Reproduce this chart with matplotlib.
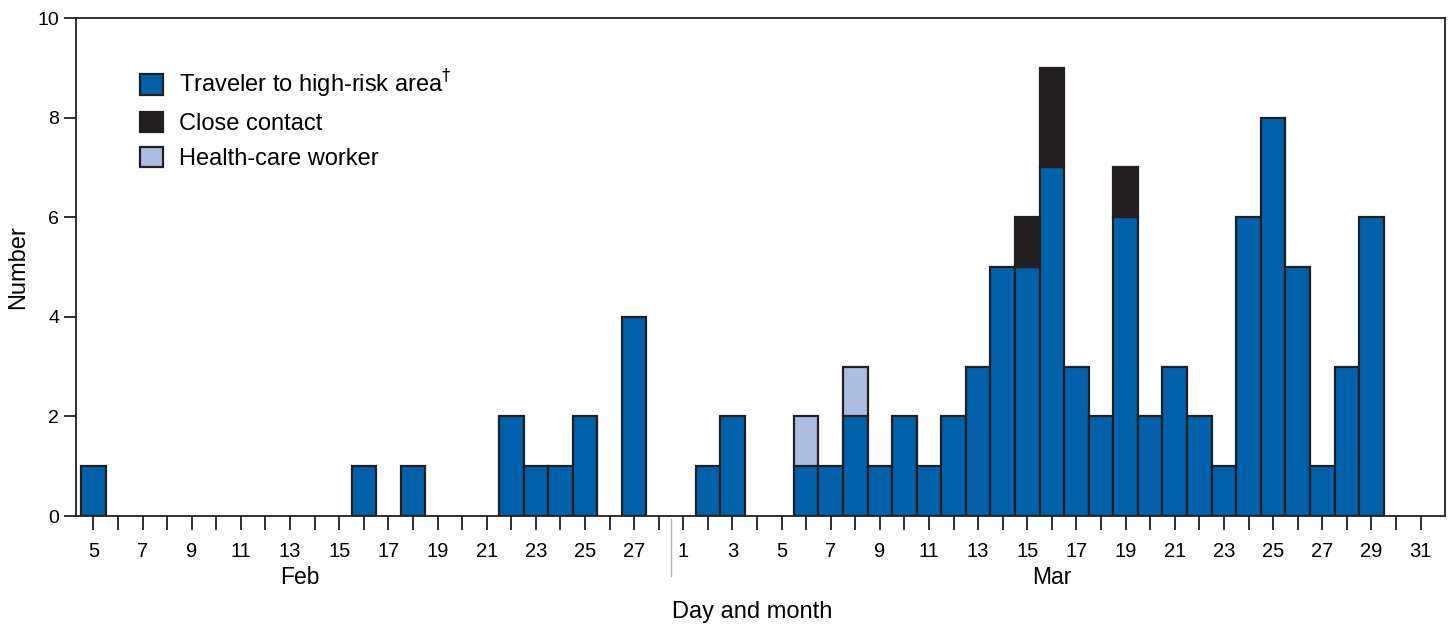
import matplotlib
matplotlib.use('Agg')
import matplotlib.pyplot as plt
import numpy as np

plt.rcParams['font.family'] = ['Liberation Sans', 'DejaVu Sans']

# day slots: Feb 5..28 then Mar 1..31 (Feb 29 not shown on the axis)
months = ['Feb'] * 24 + ['Mar'] * 31
days = list(range(5, 29)) + list(range(1, 32))

# cases by exposure, keyed by (month, day)
traveler = {
    ('Feb', 5): 1, ('Feb', 16): 1, ('Feb', 18): 1, ('Feb', 22): 2, ('Feb', 23): 1,
    ('Feb', 24): 1, ('Feb', 25): 2, ('Feb', 27): 4,
    ('Mar', 2): 1, ('Mar', 3): 2, ('Mar', 6): 1, ('Mar', 7): 1, ('Mar', 8): 2,
    ('Mar', 9): 1, ('Mar', 10): 2, ('Mar', 11): 1, ('Mar', 12): 2, ('Mar', 13): 3,
    ('Mar', 14): 5, ('Mar', 15): 5, ('Mar', 16): 7, ('Mar', 17): 3, ('Mar', 18): 2,
    ('Mar', 19): 6, ('Mar', 20): 2, ('Mar', 21): 3, ('Mar', 22): 2, ('Mar', 23): 1,
    ('Mar', 24): 6, ('Mar', 25): 8, ('Mar', 26): 5, ('Mar', 27): 1, ('Mar', 28): 3,
    ('Mar', 29): 6,
}
close_contact = {('Mar', 15): 1, ('Mar', 16): 2, ('Mar', 19): 1}
health_worker = {('Mar', 6): 1, ('Mar', 8): 1}

keys = list(zip(months, days))
trav = np.array([traveler.get(k, 0) for k in keys])
cc = np.array([close_contact.get(k, 0) for k in keys])
hcw = np.array([health_worker.get(k, 0) for k in keys])
x = np.arange(len(keys))

blue = '#0061aa'
black = '#231f20'
light = '#abbde0'
edge = '#231f20'

fig = plt.figure(figsize=(14.48, 6.24), dpi=100)
ax = fig.add_axes([0.0525, 0.173, 0.9455, 0.798])

kw = dict(width=1.0, edgecolor=edge, linewidth=1.6)
m = trav > 0
ax.bar(x[m], trav[m], color=blue, label='Traveler to high-risk area$^{\\dagger}$', **kw)
m = cc > 0
ax.bar(x[m], cc[m], bottom=trav[m], color=black, label='Close contact', **kw)
m = hcw > 0
ax.bar(x[m], hcw[m], bottom=(trav + cc)[m], color=light, label='Health-care worker', **kw)

ax.set_xlim(-0.71, 55.0)
ax.set_ylim(0, 10)
ax.set_yticks([0, 2, 4, 6, 8, 10])
ax.set_xticks(x)
ax.set_xticklabels([str(d) if d % 2 == 1 else '' for d in days])
ax.tick_params(axis='x', length=10, width=1.3, pad=9, labelsize=14.5, color=edge)
ax.tick_params(axis='y', length=9, width=1.3, pad=3, labelsize=14, color=edge)
for s in ax.spines.values():
    s.set_linewidth(1.3)
    s.set_color(edge)

ax.set_ylabel('Number', fontsize=17, labelpad=6)

# month labels and separator
ax.text(8.4, -0.1, 'Feb', transform=ax.get_xaxis_transform(), ha='center', va='top', fontsize=16.5)
ax.text(39.0, -0.1, 'Mar', transform=ax.get_xaxis_transform(), ha='center', va='top', fontsize=16.5)
ax.plot([23.5, 23.5], [-0.005, -0.12], transform=ax.get_xaxis_transform(),
        color='#b0b0b0', lw=1, clip_on=False)
ax.text(26.8, -0.17, 'Day and month', transform=ax.get_xaxis_transform(),
        ha='center', va='top', fontsize=17)

ax.legend(loc='upper left', bbox_to_anchor=(0.047, 0.9), frameon=False, fontsize=17,
          handlelength=0.95, handleheight=0.95, handletextpad=0.68, labelspacing=0.5,
          borderpad=0, borderaxespad=0)

fig.savefig('out.png', dpi=100)
